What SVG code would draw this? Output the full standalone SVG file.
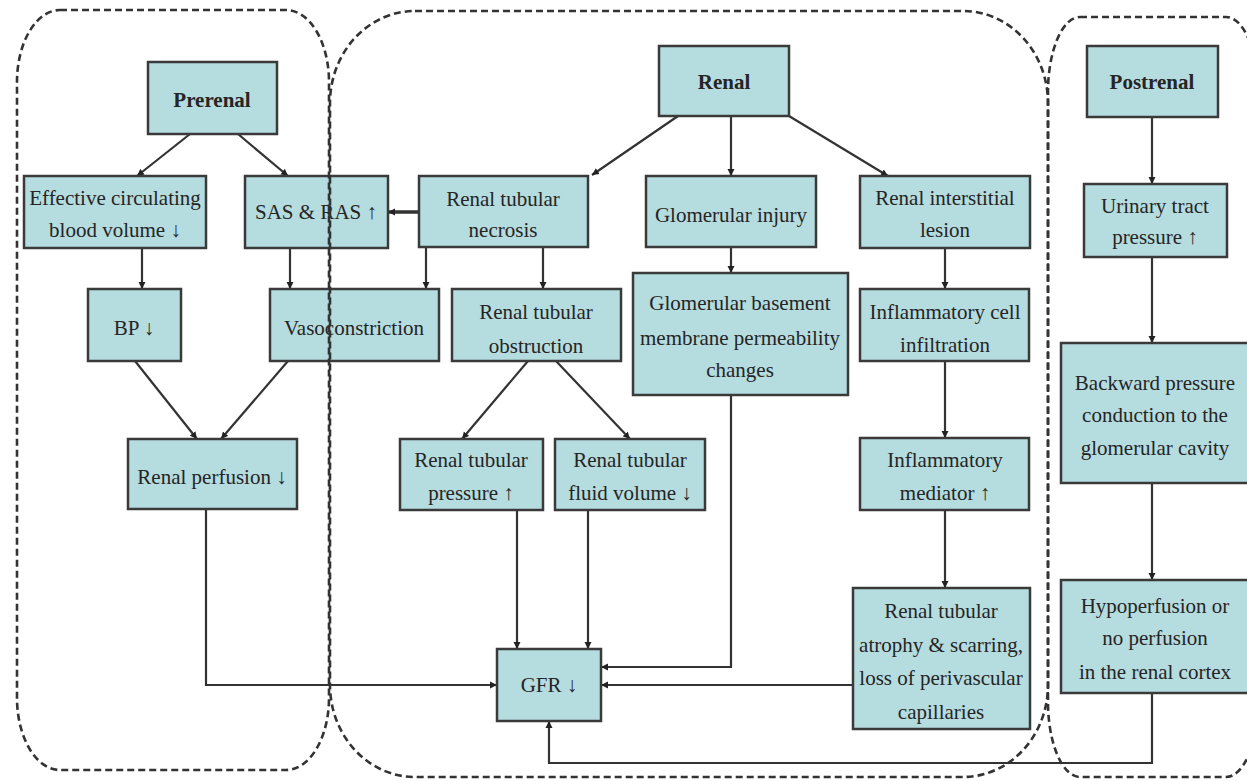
<svg xmlns="http://www.w3.org/2000/svg" width="1247" height="781" viewBox="0 0 1247 781">
<style>
.n rect{fill:#b5dcdf;stroke:#3a3a3a;stroke-width:2.5}
text{font-family:"Liberation Serif","Times New Roman",serif;font-size:21px;fill:#252525;text-anchor:middle}
.b{font-weight:bold}
.c{fill:none;stroke:#333;stroke-width:2.2}
.r{fill:none;stroke:#333;stroke-width:2.6;stroke-dasharray:7 4}
</style>
<defs>
<marker id="a" markerUnits="userSpaceOnUse" markerWidth="8" markerHeight="8" refX="7" refY="4" orient="auto"><path d="M0,0.5 L7,4 L0,7.5 z" fill="#222"/></marker>
</defs>
<rect width="1247" height="781" fill="#fff"/>
<g id="connectors" class="cn">
<path class="c" marker-end="url(#a)" d="M190,134 L137,176"/>
<path class="c" marker-end="url(#a)" d="M238,134 L288,176"/>
<path class="c" marker-end="url(#a)" d="M419,212 L388,212" style="stroke-width:3.5"/>
<path class="c" marker-end="url(#a)" d="M142,248 L142,289"/>
<path class="c" marker-end="url(#a)" d="M290,248 L290,289"/>
<path class="c" marker-end="url(#a)" d="M426,247 L426,289"/>
<path class="c" marker-end="url(#a)" d="M543,247 L543,289"/>
<path class="c" marker-end="url(#a)" d="M135,361 L197,439"/>
<path class="c" marker-end="url(#a)" d="M288,361 L221,439"/>
<path class="c" marker-end="url(#a)" d="M678,116 L592,175"/>
<path class="c" marker-end="url(#a)" d="M731,116 L731,176"/>
<path class="c" marker-end="url(#a)" d="M789,116 L888,176"/>
<path class="c" marker-end="url(#a)" d="M731,247 L731,273"/>
<path class="c" marker-end="url(#a)" d="M945,248 L945,289"/>
<path class="c" marker-end="url(#a)" d="M945,361 L945,438"/>
<path class="c" marker-end="url(#a)" d="M945,510 L945,588"/>
<path class="c" marker-end="url(#a)" d="M1152,117 L1152,184"/>
<path class="c" marker-end="url(#a)" d="M1152,257 L1152,343"/>
<path class="c" marker-end="url(#a)" d="M1152,483 L1152,580"/>
<path class="c" marker-end="url(#a)" d="M528,361 L462,439"/>
<path class="c" marker-end="url(#a)" d="M556,361 L630,439"/>
<path class="c" marker-end="url(#a)" d="M517,510 L517,649"/>
<path class="c" marker-end="url(#a)" d="M588,510 L588,649"/>
<path class="c" marker-end="url(#a)" d="M731,395 L731,667 L601,667"/>
<path class="c" marker-end="url(#a)" d="M853,685 L601,685"/>
<path class="c" marker-end="url(#a)" d="M206,509 L206,685 L497,685"/>
<path class="c" marker-end="url(#a)" d="M1152,693 L1152,763 L549,763 L549,721"/>
</g>
<g id="prerenal" class="n"><rect x="148" y="62" width="129" height="72"/><text class="b" x="212" y="107">Prerenal</text></g>
<g id="effective" class="n"><rect x="24" y="176" width="182" height="72"/><text x="115" y="205">Effective circulating</text><text x="115" y="237">blood volume ↓</text></g>
<g id="sasras" class="n"><rect x="245" y="176" width="143" height="72"/><text x="316" y="219">SAS &amp; RAS ↑</text></g>
<g id="necrosis" class="n"><rect x="419" y="176" width="169" height="71"/><text x="503" y="206">Renal tubular</text><text x="503" y="237">necrosis</text></g>
<g id="renal" class="n"><rect x="659" y="46" width="130" height="70"/><text class="b" x="724" y="89">Renal</text></g>
<g id="glomerular" class="n"><rect x="646" y="176" width="170" height="71"/><text x="731" y="222">Glomerular injury</text></g>
<g id="interstitial" class="n"><rect x="860" y="176" width="170" height="72"/><text x="945" y="205">Renal interstitial</text><text x="945" y="237">lesion</text></g>
<g id="postrenal" class="n"><rect x="1087" y="46" width="131" height="71"/><text class="b" x="1152" y="89">Postrenal</text></g>
<g id="urinary" class="n"><rect x="1084" y="184" width="143" height="73"/><text x="1155" y="213">Urinary tract</text><text x="1155" y="244">pressure ↑</text></g>
<g id="bp" class="n"><rect x="88" y="289" width="93" height="72"/><text x="134" y="335">BP ↓</text></g>
<g id="vaso" class="n"><rect x="270" y="289" width="169" height="72"/><text x="354" y="335">Vasoconstriction</text></g>
<g id="perfusion" class="n"><rect x="128" y="439" width="169" height="70"/><text x="212" y="484">Renal perfusion ↓</text></g>
<g id="obstruction" class="n"><rect x="452" y="289" width="169" height="72"/><text x="536" y="319">Renal tubular</text><text x="536" y="353">obstruction</text></g>
<g id="gbm" class="n"><rect x="633" y="273" width="215" height="122"/><text x="740" y="310">Glomerular basement</text><text x="740" y="345">membrane permeability</text><text x="740" y="377">changes</text></g>
<g id="pressure" class="n"><rect x="400" y="439" width="143" height="71"/><text x="471" y="467">Renal tubular</text><text x="471" y="500">pressure ↑</text></g>
<g id="fluid" class="n"><rect x="555" y="439" width="150" height="71"/><text x="630" y="467">Renal tubular</text><text x="630" y="500">fluid volume ↓</text></g>
<g id="infiltration" class="n"><rect x="860" y="289" width="169" height="72"/><text x="945" y="319">Inflammatory cell</text><text x="945" y="352">infiltration</text></g>
<g id="mediator" class="n"><rect x="860" y="438" width="169" height="72"/><text x="945" y="467">Inflammatory</text><text x="945" y="500">mediator ↑</text></g>
<g id="backward" class="n"><rect x="1061" y="343" width="189" height="140"/><text x="1155" y="390">Backward pressure</text><text x="1155" y="422">conduction to the</text><text x="1155" y="455">glomerular cavity</text></g>
<g id="gfr" class="n"><rect x="497" y="649" width="104" height="72"/><text x="549" y="692">GFR ↓</text></g>
<g id="atrophy" class="n"><rect x="853" y="588" width="177" height="141"/><text x="941" y="618">Renal tubular</text><text x="941" y="652">atrophy &amp; scarring,</text><text x="941" y="685">loss of perivascular</text><text x="941" y="719">capillaries</text></g>
<g id="hypo" class="n"><rect x="1061" y="580" width="189" height="113"/><text x="1155" y="613">Hypoperfusion or</text><text x="1155" y="645">no perfusion</text><text x="1155" y="679">in the renal cortex</text></g>
<g id="regions">
<rect class="r" x="17" y="10" width="312" height="760" rx="43" ry="72"/>
<rect class="r" x="330" y="11" width="718" height="766" rx="85" ry="92"/>
<rect class="r" x="1048" y="17" width="210" height="760" rx="32" ry="75"/>
</g>
</svg>
